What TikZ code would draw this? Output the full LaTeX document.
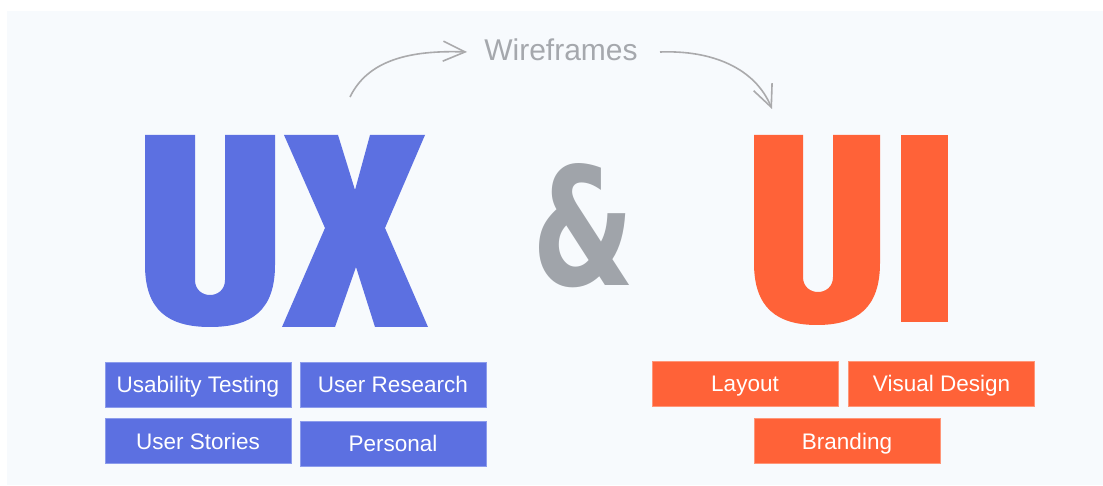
\documentclass[tikz,border=0pt]{standalone}
\usepackage{fontspec}
\setmainfont{Liberation Sans}
\newfontfamily\ampfont{DejaVu Sans}
\usepackage{graphicx}
\usetikzlibrary{arrows.meta}
\definecolor{uxblue}{RGB}{92,112,225}
\definecolor{uxblueedge}{RGB}{140,156,236}
\definecolor{uiorange}{RGB}{255,98,56}
\definecolor{uiorangeedge}{RGB}{255,150,120}
\definecolor{ampgray}{RGB}{160,164,170}
\definecolor{wiregray}{RGB}{165,168,173}
\definecolor{arrgray}{RGB}{170,170,172}
\definecolor{panel}{RGB}{247,250,253}
\tikzset{
  tagbox/.style={minimum width=186pt, minimum height=45pt, inner sep=0pt, text=white,
    font=\fontsize{22.5}{22.5}\selectfont, text height=16pt, text depth=0pt, line width=0.8pt},
  bluebox/.style={tagbox, fill=uxblue, draw=uxblueedge},
  orangebox/.style={tagbox, fill=uiorange, draw=uiorangeedge},
  wirearrow/.style={draw=arrgray, line width=1.6pt, -{Straight Barb[length=22pt,width=20pt,line width=1.6pt]}}
}
\begin{document}
\begin{tikzpicture}[x=1pt,y=-1pt]
\useasboundingbox (0,0) rectangle (1103,486);
\fill[white] (0,0) rectangle (1103,486);
\fill[panel] (7,11) rectangle (1103,485);

% U of UX
\fill[uxblue] (145,135) -- (195,135) -- (195,280)
  .. controls (195,300) and (225,300) .. (225,280)
  -- (225,135) -- (275,135) -- (275,265)
  .. controls (275,310) and (252,327) .. (210,327)
  .. controls (168,327) and (145,310) .. (145,265) -- cycle;
% X of UX
\fill[uxblue] (284,135) -- (338,135) -- (355,190) -- (370,135) -- (425,135)
  -- (385,228) -- (428,327) -- (375,327) -- (356,267) -- (335,327)
  -- (282,327) -- (325,228) -- cycle;

% ampersand
\node[inner sep=0pt, text=ampgray] (amp) at (584,226)
  {\resizebox{102pt}{122pt}{\ampfont\bfseries\&}};

% U of UI
\fill[uiorange] (754,135) -- (803,135) -- (803,277)
  .. controls (803,297) and (833,297) .. (833,277)
  -- (833,135) -- (880,135) -- (880,263)
  .. controls (880,308) and (857,325) .. (817,325)
  .. controls (777,325) and (754,308) .. (754,263) -- cycle;
% I of UI
\fill[uiorange] (901,135) rectangle (948,322);

% Wireframes label and arrows
\node[anchor=base, inner sep=0pt, text=wiregray, font=\fontsize{30}{30}\selectfont] (wire) at (561,61) {Wireframes};
\coordinate (uxstart) at (350,97);
\coordinate (wirein) at (467,52);
\coordinate (wireout) at (660,52);
\coordinate (uiend) at (772,109);
\draw[wirearrow] (uxstart) .. controls (368,60) and (410,50) .. (wirein);
\draw[wirearrow] (wireout) .. controls (712,50) and (755,68) .. (uiend);

% UX boxes
\node[bluebox] (ut) at (198,384.5) {Usability Testing};
\node[bluebox] (ur) at (393,384.5) {User Research};
\node[bluebox] (us) at (198,441) {User Stories};
\node[bluebox] (pe) at (393,443.5) {Personal};

% UI boxes
\node[orangebox] (la) at (745,383.5) {Layout};
\node[orangebox] (vd) at (941.5,383.5) {Visual Design};
\node[orangebox] (br) at (847,441) {Branding};
\end{tikzpicture}
\end{document}
